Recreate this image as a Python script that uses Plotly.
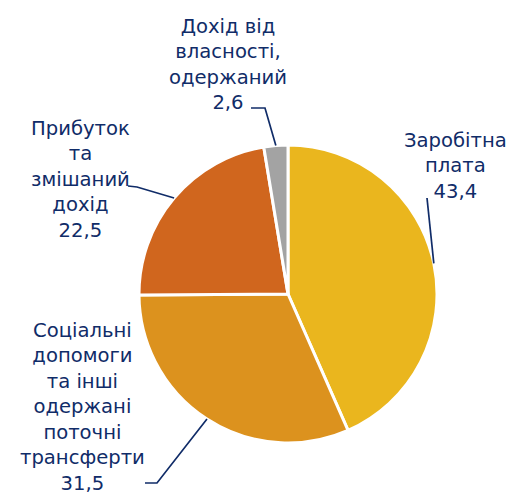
import plotly.graph_objects as go
import math

# ---- data ----
categories = ["Заробітна<br>плата",
              "Соціальні<br>допомоги<br>та інші<br>одержані<br>поточні<br>трансферти",
              "Прибуток<br>та<br>змішаний<br>дохід",
              "Дохід від<br>власності,<br>одержаний"]
values = [43.4, 31.5, 22.5, 2.6]
colors = ["#EAB61E", "#DC921E", "#D0661E", "#A3A3A3"]

# ---- layout constants (pixels) ----
W, H = 513, 498
CX, CY, R = 288, 294, 149
TEXT_COLOR = "#102C68"

def px(x):
    return x / W

def py(y):
    return 1 - y / H

# label block centers and leader-line elbow points (pixels)
label_pos = [(455, 166), (82, 407), (80, 179), (228, 64)]
elbows = [[(427, 198)],
          [(145, 483), (157, 483)],
          [(128, 186), (137, 187)],
          [(251, 108), (265, 108)]]

fig = go.Figure(go.Pie(
    values=values,
    labels=[c.replace("<br>", " ") for c in categories],
    sort=False,
    direction="clockwise",
    rotation=0,
    marker=dict(colors=colors, line=dict(color="white", width=3)),
    textinfo="none",
    hoverinfo="none",
    showlegend=False,
    domain=dict(x=[px(CX - R), px(CX + R)], y=[py(CY + R), py(CY - R)]),
))

total = sum(values)
cum = 0
annotations = []
shapes = []
for i, v in enumerate(values):
    mid = (cum + v / 2) / total * 2 * math.pi
    cum += v
    ax_ = CX + R * math.sin(mid)
    ay_ = CY - R * math.cos(mid)
    pts = elbows[i] + [(ax_, ay_)]
    path = "M " + " L ".join(f"{px(x):.5f},{py(y):.5f}" for x, y in pts)
    shapes.append(dict(type="path", path=path, xref="paper", yref="paper",
                       line=dict(color=TEXT_COLOR, width=1.7)))
    lx, ly = label_pos[i]
    txt = categories[i] + "<br>" + f"{v:.1f}".replace(".", ",")
    annotations.append(dict(x=px(lx), y=py(ly), xref="paper", yref="paper",
                            text=txt, showarrow=False, align="center",
                            xanchor="center", yanchor="middle",
                            font=dict(family="DejaVu Sans", size=19.6, color=TEXT_COLOR)))

fig.update_layout(
    width=W, height=H,
    margin=dict(l=0, r=0, t=0, b=0),
    paper_bgcolor="white",
    plot_bgcolor="white",
    annotations=annotations,
    shapes=shapes,
)

fig.write_html("out.html")
